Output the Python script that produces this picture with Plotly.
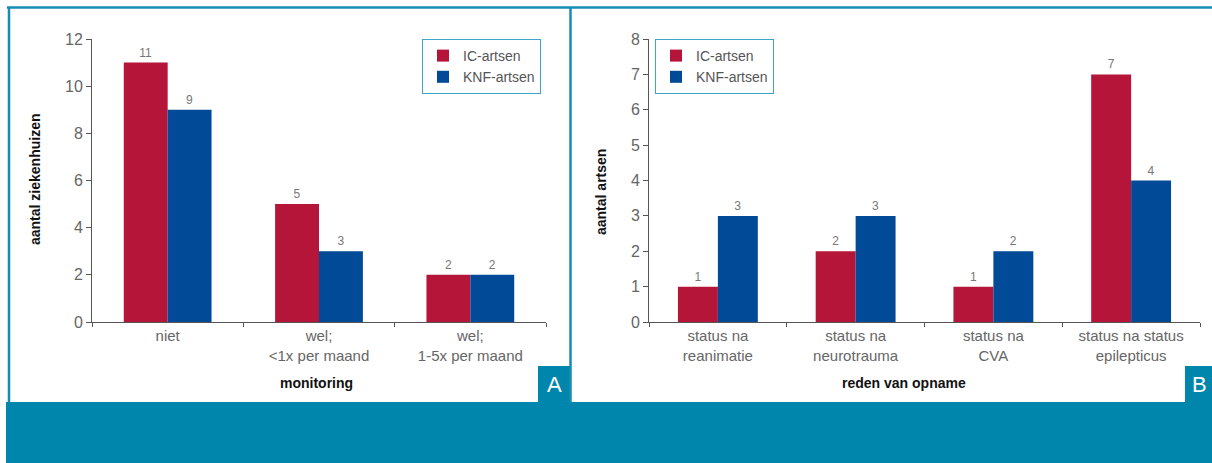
import plotly.graph_objects as go

# Panel A data
cats_a = ["niet", "wel;<br><1x per maand", "wel;<br>1-5x per maand"]
ic_a = [11, 5, 2]
knf_a = [9, 3, 2]

# Panel B data
cats_b = ["status na<br>reanimatie", "status na<br>neurotrauma", "status na<br>CVA", "status na status<br>epilepticus"]
ic_b = [1, 2, 1, 7]
knf_b = [3, 3, 2, 4]

series_names = ["IC-artsen", "KNF-artsen"]
RED = "#B41539"
BLUE = "#004A97"
TEAL = "#0086AD"
LINE_TEAL = "#168CB3"
W, H = 1212, 463
FONT = "Liberation Sans, Arial, sans-serif"

def px(x):
    return x / W

def py(y):
    return 1 - y / H

fig = go.Figure()
lab_font = dict(family=FONT, size=12, color="#777777")
no_line = dict(width=0)
fig.add_trace(go.Bar(x=cats_a, y=ic_a, name=series_names[0], marker=dict(color=RED, line=no_line),
                     text=ic_a, textposition="outside", textfont=lab_font, cliponaxis=False,
                     xaxis="x", yaxis="y", legend="legend"))
fig.add_trace(go.Bar(x=cats_a, y=knf_a, name=series_names[1], marker=dict(color=BLUE, line=no_line),
                     text=knf_a, textposition="outside", textfont=lab_font, cliponaxis=False,
                     xaxis="x", yaxis="y", legend="legend"))
fig.add_trace(go.Bar(x=cats_b, y=ic_b, name=series_names[0], marker=dict(color=RED, line=no_line),
                     text=ic_b, textposition="outside", textfont=lab_font, cliponaxis=False,
                     xaxis="x2", yaxis="y2", legend="legend2"))
fig.add_trace(go.Bar(x=cats_b, y=knf_b, name=series_names[1], marker=dict(color=BLUE, line=no_line),
                     text=knf_b, textposition="outside", textfont=lab_font, cliponaxis=False,
                     xaxis="x2", yaxis="y2", legend="legend2"))

ydom = [py(322), py(39)]
axis_common = dict(showline=True, linecolor="#555555", linewidth=1, ticks="outside",
                   tickcolor="#555555", showgrid=False, zeroline=False, automargin=False)
xcommon = dict(axis_common, type="category", tickson="boundaries", ticklen=4,
               tickfont=dict(family=FONT, size=15, color="#666666"))
ycommon = dict(axis_common, ticklen=5, tickfont=dict(family=FONT, size=16, color="#666666"))

legend_common = dict(bgcolor="white", bordercolor="#3FA5C6", borderwidth=1,
                     font=dict(family=FONT, size=14, color="#555555"),
                     xanchor="left", yanchor="top", itemwidth=30, tracegroupgap=0)

fig.update_layout(
    width=W, height=H, autosize=False,
    margin=dict(l=0, r=0, t=0, b=0, pad=0, autoexpand=False),
    paper_bgcolor="white", plot_bgcolor="white",
    barmode="group", bargap=0.42, bargroupgap=0,
    showlegend=True,
    xaxis=dict(xcommon, domain=[px(92), px(546)], anchor="y", range=[-0.5, 2.5]),
    yaxis=dict(ycommon, domain=ydom, anchor="x", range=[0, 12], dtick=2),
    xaxis2=dict(xcommon, domain=[px(649), px(1200)], anchor="y2", range=[-0.5, 3.5]),
    yaxis2=dict(ycommon, domain=ydom, anchor="x2", range=[0, 8], dtick=1),
    legend=dict(legend_common, x=px(422), y=py(39)),
    legend2=dict(legend_common, x=px(655), y=py(39)),
)

shapes = [
    dict(type="rect", xref="paper", yref="paper", x0=px(6), x1=1, y0=0, y1=py(402),
         fillcolor=TEAL, line=dict(width=0), layer="below"),
    dict(type="rect", xref="paper", yref="paper", x0=px(538), x1=px(570), y0=py(402), y1=py(366),
         fillcolor=TEAL, line=dict(width=0)),
    dict(type="rect", xref="paper", yref="paper", x0=px(1185), x1=1, y0=py(402), y1=py(366),
         fillcolor=TEAL, line=dict(width=0)),
    dict(type="line", xref="paper", yref="paper", x0=px(7), x1=1, y0=py(7.5), y1=py(7.5),
         line=dict(color=LINE_TEAL, width=2.5)),
    dict(type="line", xref="paper", yref="paper", x0=px(9), x1=px(9), y0=py(7), y1=py(402),
         line=dict(color=LINE_TEAL, width=2.5)),
    dict(type="line", xref="paper", yref="paper", x0=px(570.5), x1=px(570.5), y0=py(7), y1=py(402),
         line=dict(color=LINE_TEAL, width=2.5)),
]
fig.update_layout(shapes=shapes)

title_font = dict(family=FONT, size=14, color="#111111", weight="bold")
annotations = [
    dict(text="aantal ziekenhuizen", x=px(35), y=py(180), xref="paper", yref="paper",
         textangle=-90, showarrow=False, font=title_font, xanchor="center", yanchor="middle"),
    dict(text="aantal artsen", x=px(601), y=py(192), xref="paper", yref="paper",
         textangle=-90, showarrow=False, font=title_font, xanchor="center", yanchor="middle"),
    dict(text="monitoring", x=px(316), y=py(383), xref="paper", yref="paper",
         showarrow=False, font=title_font, xanchor="center", yanchor="middle"),
    dict(text="reden van opname", x=px(904), y=py(383), xref="paper", yref="paper",
         showarrow=False, font=title_font, xanchor="center", yanchor="middle"),
    dict(text="A", x=px(554), y=py(384), xref="paper", yref="paper",
         showarrow=False, font=dict(family=FONT, size=22, color="white"),
         xanchor="center", yanchor="middle"),
    dict(text="B", x=px(1199), y=py(384), xref="paper", yref="paper",
         showarrow=False, font=dict(family=FONT, size=22, color="white"),
         xanchor="center", yanchor="middle"),
]
fig.update_layout(annotations=annotations)

fig.write_html("out.html", config={"displayModeBar": False},
               post_script="document.body.style.margin='0';document.body.style.overflow='hidden';")
